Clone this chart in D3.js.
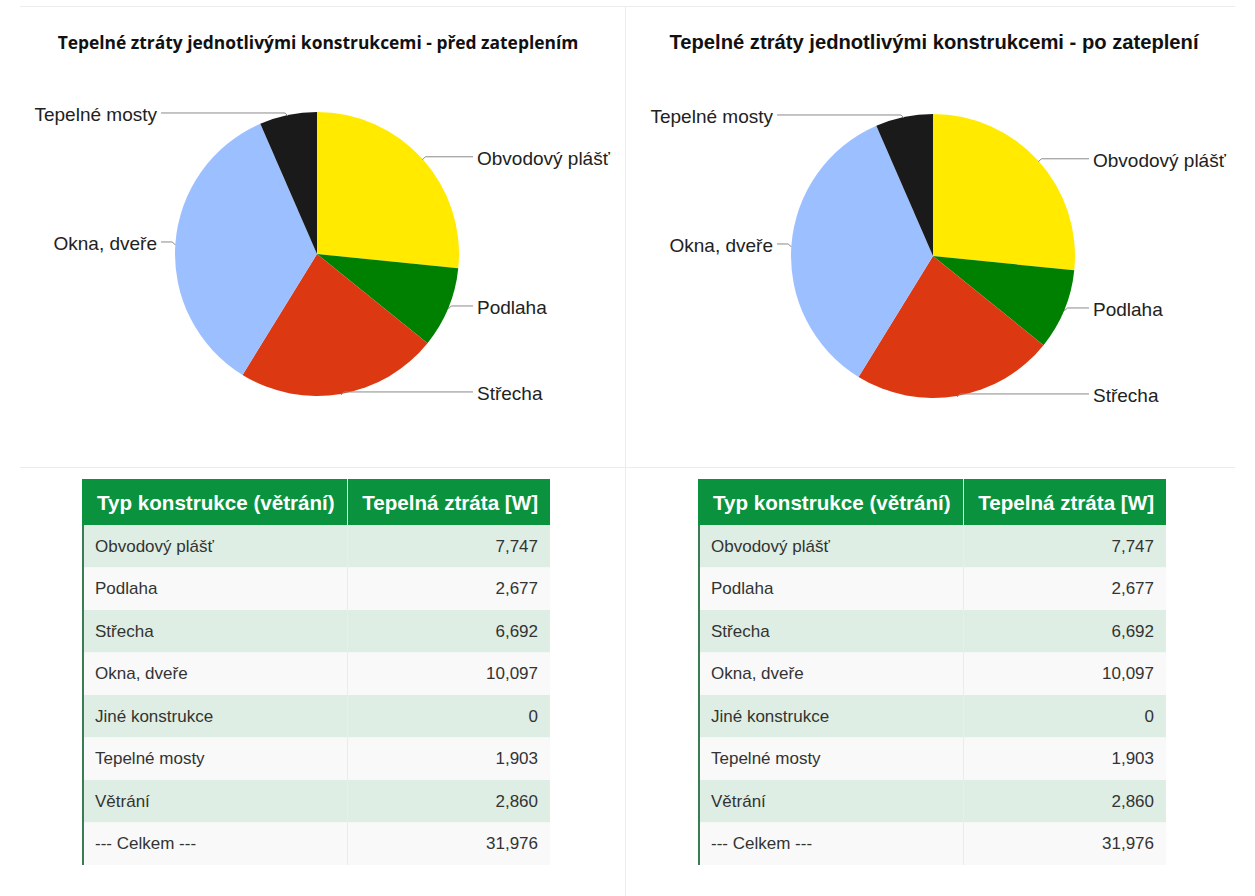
<!DOCTYPE html>
<html>
<head>
<meta charset="utf-8">
<script src="https://cdn.jsdelivr.net/npm/d3@7"></script>
<style>
  body { margin: 0; background: #fff; }
  svg { display: block; }
</style>
</head>
<body>
<div id="chart"></div>
<script>
// rows of the table, the pie uses the first six (Větrání is not drawn)
const categories = ["Obvodový plášť", "Podlaha", "Střecha", "Okna, dveře", "Jiné konstrukce", "Tepelné mosty", "Větrání"];
const pieCategories = ["Obvodový plášť", "Podlaha", "Střecha", "Okna, dveře", "Jiné konstrukce", "Tepelné mosty"];
const beforeValues = [7747, 2677, 6692, 10097, 0, 1903, 2860];
const afterValues = [7747, 2677, 6692, 10097, 0, 1903, 2860];
const sliceColors = ["#ffea00", "#008000", "#dc3912", "#9cc0ff", "#999999", "#1a1a1a"];
const headers = ["Typ konstrukce (větrání)", "Tepelná ztráta [W]"];

const panels = [
    {title: "Tepelné ztráty jednotlivými konstrukcemi - před zateplením", values: beforeValues,
     dx: 0, dy: 0, titleFont: "'Open Sans', sans-serif", titleSize: 17.4},
    {title: "Tepelné ztráty jednotlivými konstrukcemi - po zateplení", values: afterValues,
     dx: 616, dy: 2, titleFont: "'Liberation Sans', Arial, sans-serif", titleSize: 20.2}
];

const W = 1255, H = 896;
const svg = d3.select("#chart").append("svg")
    .attr("width", W)
    .attr("height", H);

// panel grid lines
const gridColor = "#ececec";
svg.append("line").attr("x1", 20).attr("x2", 1235).attr("y1", 6.5).attr("y2", 6.5).attr("stroke", gridColor);
svg.append("line").attr("x1", 20).attr("x2", 1235).attr("y1", 467.5).attr("y2", 467.5).attr("stroke", gridColor);
svg.append("line").attr("x1", 625.5).attr("x2", 625.5).attr("y1", 6).attr("y2", H).attr("stroke", gridColor);

const labelFont = "'Liberation Sans', Arial, sans-serif";
const color = d3.scaleOrdinal().domain(pieCategories).range(sliceColors);
const fmt = d3.format(",");

panels.forEach(p => {
    const g = svg.append("g").attr("transform", "translate(" + p.dx + ",0)");

    g.append("text")
        .attr("x", 318)
        .attr("y", 42)
        .attr("text-anchor", "middle")
        .attr("dominant-baseline", "central")
        .style("font-family", p.titleFont)
        .style("font-size", p.titleSize + "px")
        .style("font-weight", 700)
        .style("fill", "#111")
        .text(p.title);

    // ---- pie ----
    const cx = 317, cy = 254 + p.dy, r = 142;
    const pieData = pieCategories.map((c, i) => ({name: c, value: p.values[i]}))
        .filter(d => d.value > 0);

    const pie = d3.pie().sort(null).value(d => d.value);
    const arc = d3.arc().innerRadius(0).outerRadius(r);
    const arcs = pie(pieData);

    const pg = g.append("g").attr("transform", "translate(" + cx + "," + cy + ")");
    pg.selectAll(".slice")
        .data(arcs)
        .join("path")
            .attr("class", "slice")
            .attr("d", arc)
            .attr("fill", d => color(d.data.name))
            .attr("stroke", "none");

    arcs.forEach(a => {
        const mid = (a.startAngle + a.endAngle) / 2;
        const px = Math.sin(mid) * r, py = -Math.cos(mid) * r;
        const right = px >= 0;
        const ly = Math.max(py, -r);
        const lx = right ? r + 18 : -r - 18;
        const bend = right ? px + 3 : px - 3;

        pg.append("path")
            .attr("d", `M${px},${py + 1}L${bend},${ly - 2}L${right ? lx - 4 : lx + 4},${ly - 2}`)
            .attr("fill", "none")
            .attr("stroke", "#8a8a8a")
            .attr("stroke-width", 1);

        pg.append("text")
            .attr("x", lx)
            .attr("y", ly)
            .attr("text-anchor", right ? "start" : "end")
            .attr("dominant-baseline", "central")
            .style("font-family", labelFont)
            .style("font-size", "19px")
            .style("fill", "#222")
            .text(a.data.name);
    });

    // ---- table ----
    const tx0 = 82, tx1 = 550, split = 347;
    const headTop = 479, headH = 46, rowH = 42.5;
    const rows = categories.map((c, i) => ({name: c, value: fmt(p.values[i])}));
    rows.push({name: "--- Celkem ---", value: fmt(d3.sum(p.values))});

    const y = d3.scaleBand()
        .domain(d3.range(rows.length))
        .range([headTop + headH, headTop + headH + rowH * rows.length]);

    const tg = g.append("g");
    tg.append("rect")
        .attr("x", tx0).attr("y", headTop)
        .attr("width", tx1 - tx0).attr("height", headH)
        .attr("fill", "#0b923e");
    tg.append("line")
        .attr("x1", split + 0.5).attr("x2", split + 0.5)
        .attr("y1", headTop).attr("y2", headTop + headH)
        .attr("stroke", "#d9efe0").attr("stroke-width", 1);

    tg.selectAll(".head")
        .data(headers)
        .join("text")
            .attr("class", "head")
            .attr("x", (d, i) => i === 0 ? 97 : 538)
            .attr("y", headTop + headH / 2)
            .attr("text-anchor", (d, i) => i === 0 ? "start" : "end")
            .attr("dominant-baseline", "central")
            .style("font-family", labelFont)
            .style("font-size", "20.6px")
            .style("font-weight", 700)
            .style("fill", "#fff")
            .text(d => d);

    tg.selectAll(".row")
        .data(rows)
        .join("rect")
            .attr("class", "row")
            .attr("x", tx0)
            .attr("y", (d, i) => y(i))
            .attr("width", tx1 - tx0)
            .attr("height", y.bandwidth())
            .attr("fill", (d, i) => i % 2 === 0 ? "#dfeee4" : "#f9f9f9");

    tg.append("line")
        .attr("x1", split + 0.5).attr("x2", split + 0.5)
        .attr("y1", y(0)).attr("y2", y(rows.length - 1) + y.bandwidth())
        .attr("stroke", "#ececec");

    tg.append("line")
        .attr("x1", tx0 + 1).attr("x2", tx0 + 1)
        .attr("y1", y(0)).attr("y2", y(rows.length - 1) + y.bandwidth())
        .attr("stroke", "#3a7d52").attr("stroke-width", 2);

    tg.selectAll(".cell-name")
        .data(rows)
        .join("text")
            .attr("class", "cell-name")
            .attr("x", 95)
            .attr("y", (d, i) => y(i) + y.bandwidth() / 2)
            .attr("dominant-baseline", "central")
            .style("font-family", labelFont)
            .style("font-size", "17px")
            .style("fill", "#333")
            .text(d => d.name);

    tg.selectAll(".cell-value")
        .data(rows)
        .join("text")
            .attr("class", "cell-value")
            .attr("x", 538)
            .attr("y", (d, i) => y(i) + y.bandwidth() / 2)
            .attr("text-anchor", "end")
            .attr("dominant-baseline", "central")
            .style("font-family", labelFont)
            .style("font-size", "17px")
            .style("fill", "#333")
            .text(d => d.value);
});
</script>
</body>
</html>
